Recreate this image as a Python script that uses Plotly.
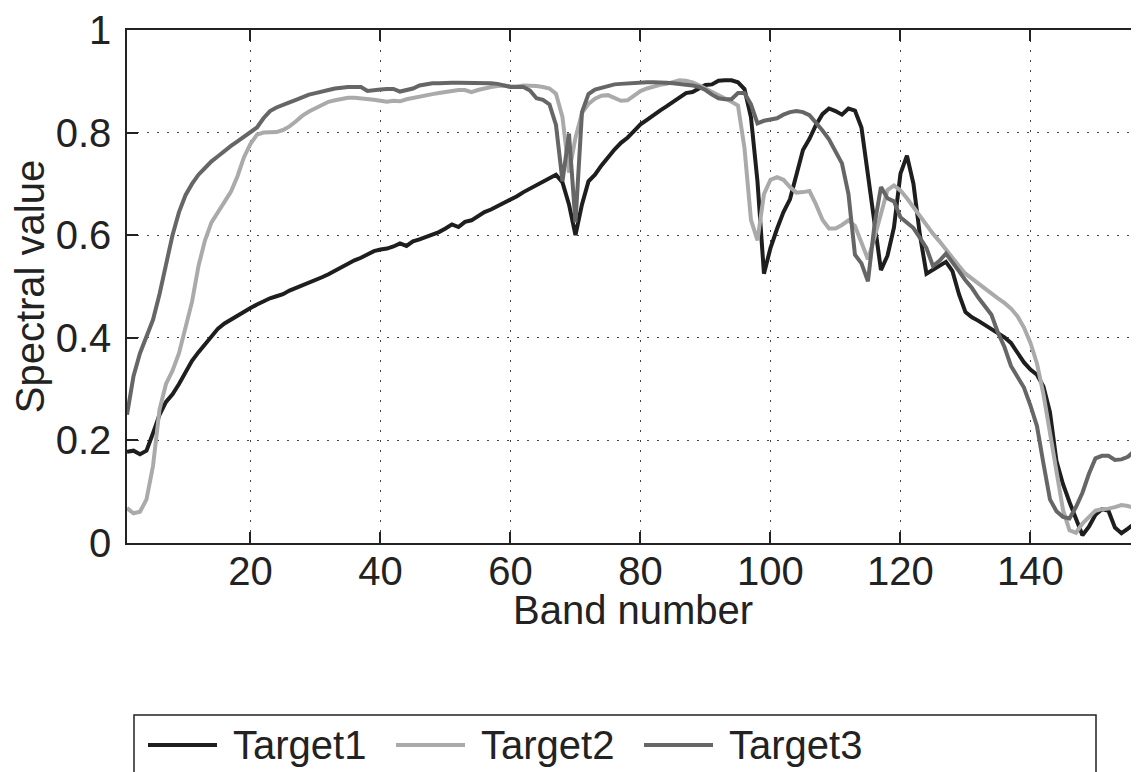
import plotly.graph_objects as go

bands = list(range(1, 158))

target1 = [
    0.178, 0.180, 0.173, 0.180, 0.214, 0.250, 0.275, 0.290, 0.310, 0.333,
    0.355, 0.372, 0.387, 0.403, 0.418, 0.428, 0.436, 0.443, 0.450, 0.458,
    0.465, 0.472, 0.477, 0.481, 0.485, 0.492, 0.497, 0.502, 0.506, 0.512,
    0.518, 0.524, 0.531, 0.538, 0.544, 0.551, 0.556, 0.562, 0.569, 0.572,
    0.574, 0.578, 0.584, 0.579, 0.588, 0.592, 0.596, 0.600, 0.606, 0.613,
    0.621, 0.616, 0.626, 0.629, 0.637, 0.645, 0.650, 0.656, 0.662, 0.668,
    0.676, 0.684, 0.691, 0.698, 0.705, 0.711, 0.718, 0.703, 0.660, 0.600,
    0.660, 0.705, 0.718, 0.736, 0.752, 0.767, 0.780, 0.790, 0.803, 0.816,
    0.825, 0.835, 0.843, 0.851, 0.859, 0.868, 0.877, 0.879, 0.887, 0.893,
    0.894, 0.901, 0.902, 0.902, 0.898, 0.885, 0.830, 0.705, 0.525, 0.575,
    0.612, 0.645, 0.670, 0.718, 0.766, 0.788, 0.815, 0.836, 0.847, 0.842,
    0.835, 0.847, 0.843, 0.810, 0.718, 0.620, 0.532, 0.560, 0.615, 0.720,
    0.755, 0.700, 0.600, 0.525, 0.532, 0.540, 0.548, 0.530, 0.485, 0.450,
    0.440, 0.433, 0.425, 0.418, 0.410, 0.401, 0.390, 0.372, 0.352, 0.338,
    0.328, 0.305, 0.255, 0.160, 0.115, 0.080, 0.050, 0.015, 0.032, 0.055,
    0.066, 0.063, 0.030, 0.019, 0.028, 0.038, 0.045,
]

target2 = [
    0.068, 0.058, 0.061, 0.085, 0.150, 0.260, 0.310, 0.336, 0.370, 0.420,
    0.470, 0.540, 0.590, 0.625, 0.645, 0.665, 0.685, 0.715, 0.752, 0.778,
    0.796, 0.800, 0.800, 0.801, 0.805, 0.812, 0.822, 0.833, 0.841, 0.848,
    0.855, 0.860, 0.863, 0.866, 0.868, 0.868, 0.867, 0.866, 0.864, 0.862,
    0.860, 0.862, 0.861, 0.865, 0.868, 0.871, 0.873, 0.875, 0.877, 0.879,
    0.881, 0.883, 0.883, 0.879, 0.883, 0.887, 0.889, 0.891, 0.892, 0.890,
    0.890, 0.892, 0.892, 0.891, 0.889, 0.886, 0.876, 0.830, 0.722, 0.790,
    0.838, 0.856, 0.866, 0.872, 0.873, 0.868, 0.862, 0.863, 0.873, 0.881,
    0.886, 0.890, 0.893, 0.895, 0.899, 0.902, 0.901, 0.898, 0.892, 0.886,
    0.879, 0.872, 0.866, 0.860, 0.853, 0.770, 0.630, 0.590, 0.680, 0.708,
    0.713, 0.708, 0.694, 0.683, 0.684, 0.686, 0.660, 0.630, 0.613, 0.613,
    0.620, 0.629, 0.618, 0.585, 0.553, 0.595, 0.640, 0.688, 0.697, 0.687,
    0.672, 0.655, 0.635, 0.618, 0.603, 0.588, 0.571, 0.556, 0.540, 0.525,
    0.515, 0.506, 0.497, 0.486, 0.477, 0.468, 0.457, 0.442, 0.420, 0.390,
    0.350, 0.290, 0.214, 0.130, 0.065, 0.025, 0.020, 0.038, 0.050, 0.063,
    0.066, 0.067, 0.070, 0.074, 0.072, 0.068, 0.067,
]

target3 = [
    0.250, 0.325, 0.370, 0.405, 0.435, 0.485, 0.545, 0.600, 0.645, 0.678,
    0.700, 0.718, 0.731, 0.744, 0.754, 0.765, 0.774, 0.783, 0.792, 0.800,
    0.810, 0.828, 0.842, 0.849, 0.855, 0.859, 0.864, 0.870, 0.874, 0.877,
    0.881, 0.883, 0.886, 0.888, 0.889, 0.889, 0.889, 0.881, 0.883, 0.884,
    0.885, 0.885, 0.880, 0.883, 0.886, 0.892, 0.895, 0.896, 0.896, 0.897,
    0.897, 0.897, 0.897, 0.897, 0.897, 0.897, 0.896, 0.895, 0.892, 0.889,
    0.889, 0.889, 0.882, 0.867, 0.864, 0.855, 0.815, 0.705, 0.798, 0.625,
    0.840, 0.875, 0.884, 0.888, 0.891, 0.894, 0.895, 0.896, 0.897, 0.897,
    0.898, 0.898, 0.898, 0.897, 0.896, 0.895, 0.894, 0.892, 0.889, 0.883,
    0.874, 0.867, 0.865, 0.865, 0.877, 0.877, 0.855, 0.818, 0.823, 0.825,
    0.828, 0.835, 0.840, 0.842, 0.840, 0.834, 0.820, 0.804, 0.787, 0.765,
    0.740, 0.680, 0.562, 0.545, 0.510, 0.620, 0.694, 0.672, 0.666, 0.635,
    0.624, 0.614, 0.595, 0.575, 0.540, 0.550, 0.564, 0.548, 0.530, 0.512,
    0.497, 0.478, 0.462, 0.445, 0.410, 0.382, 0.345, 0.325, 0.303, 0.268,
    0.228, 0.155, 0.085, 0.062, 0.051, 0.048, 0.070, 0.098, 0.135, 0.165,
    0.170, 0.170, 0.162, 0.163, 0.168, 0.180, 0.194,
]

series_names = ["Target1", "Target2", "Target3"]
series_colors = ["#1e1e1e", "#aaaaaa", "#666666"]
series_values = [target1, target2, target3]

x_ticks = [20, 40, 60, 80, 100, 120, 140]
y_ticks = [0, 0.2, 0.4, 0.6, 0.8, 1]
y_tick_text = ["0", "0.2", "0.4", "0.6", "0.8", "1"]

# the page body has an 8px default margin: lay out in window pixels, then shift
OFF = 8
WIN_W, WIN_H = 1139, 772
W, H = WIN_W - OFF, WIN_H - OFF
PLOT_L, PLOT_R, PLOT_T, PLOT_B = 127, 1139, 30, 543   # window pixels
ML, MR, MT = PLOT_L - OFF, WIN_W - PLOT_R, PLOT_T - OFF
MB = H - (PLOT_B - OFF)
PW = PLOT_R - PLOT_L
PH = PLOT_B - PLOT_T
FONT = "Liberation Sans, Arial, Helvetica, sans-serif"
INK = "#222222"

fig = go.Figure()
for name, col, vals in zip(series_names, series_colors, series_values):
    fig.add_trace(go.Scatter(x=bands, y=vals, mode="lines", name=name,
                             line=dict(color=col, width=4), showlegend=False))

axis_common = dict(
    showline=True, linecolor=INK, linewidth=1.5,
    ticks="inside", ticklen=11, tickwidth=1.5, tickcolor=INK,
    showgrid=True, gridcolor="#444444", gridwidth=1, griddash="1.5px,8.5px",
    zeroline=False, tickfont=dict(family=FONT, size=40, color=INK),
)

fig.update_xaxes(range=[1, 156.7], tickvals=x_ticks, mirror="ticks",
                 ticklabelstandoff=-8, **axis_common)
fig.update_yaxes(range=[0, 1], tickvals=y_ticks, ticktext=y_tick_text, mirror=False,
                 ticklabelstandoff=6,
                 title=dict(text="Spectral value", font=dict(family=FONT, size=40, color=INK),
                            standoff=0),
                 **axis_common)


def px_to_paper_x(px):
    return (px - PLOT_L) / PW


def px_to_paper_y(py):
    return (PLOT_B - py) / PH


annotations = [dict(text="Band number", xref="paper", yref="paper",
                    x=0.5, y=px_to_paper_y(610), xanchor="center", yanchor="middle",
                    showarrow=False, borderpad=0,
                    font=dict(family=FONT, size=40, color=INK))]

# legend strip below the axes
shapes = [dict(type="rect", xref="paper", yref="paper",
               x0=px_to_paper_x(134), x1=px_to_paper_x(1096),
               y0=px_to_paper_y(715), y1=px_to_paper_y(800),
               line=dict(color=INK, width=1.5), fillcolor="white", layer="above")]
entry_step = 248
for i, (name, col) in enumerate(zip(series_names, series_colors)):
    x0 = 148 + i * entry_step
    shapes.append(dict(type="line", xref="paper", yref="paper",
                       x0=px_to_paper_x(x0), x1=px_to_paper_x(x0 + 69),
                       y0=px_to_paper_y(745), y1=px_to_paper_y(745),
                       line=dict(color=col, width=4), layer="above"))
    annotations.append(dict(text=name, xref="paper", yref="paper",
                            x=px_to_paper_x(x0 + 84), y=px_to_paper_y(745),
                            xanchor="left", yanchor="middle", showarrow=False,
                            borderpad=0,
                            font=dict(family=FONT, size=40, color=INK)))

fig.update_layout(
    width=W, height=H,
    margin=dict(l=ML, r=MR, t=MT, b=MB, autoexpand=False),
    paper_bgcolor="white", plot_bgcolor="white",
    font=dict(family=FONT, color=INK),
    shapes=shapes, annotations=annotations,
)

fig.write_html("out.html")
